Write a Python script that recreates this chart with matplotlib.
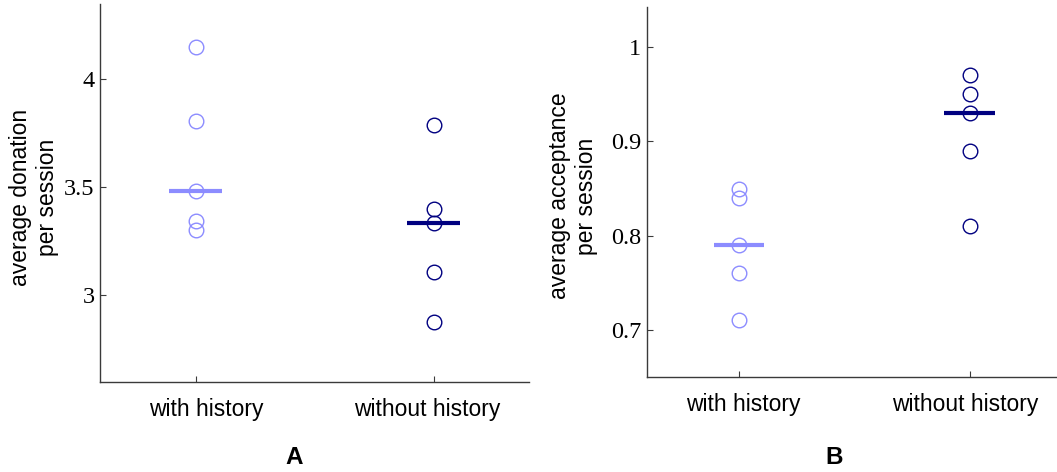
import matplotlib
matplotlib.use("Agg")
import matplotlib.pyplot as plt
import numpy as np

# Session-level results for the two conditions
conditions = ["with history", "without history"]
donation_with = [4.146, 3.805, 3.48, 3.342, 3.303]
donation_without = [3.785, 3.397, 3.334, 3.106, 2.877]
acceptance_with = [0.85, 0.84, 0.79, 0.76, 0.71]
acceptance_without = [0.97, 0.95, 0.93, 0.89, 0.81]

donation_ticks = [3, 3.5, 4]
donation_ticklabels = ["3", "3.5", "4"]
acceptance_ticks = [0.7, 0.8, 0.9, 1.0]
acceptance_ticklabels = ["0.7", "0.8", "0.9", "1"]

light = "#8c8cff"
dark = "#000080"
spine_col = "#3a3a3a"

W, H = 1057, 472
fig = plt.figure(figsize=(W / 100, H / 100), dpi=100)


def px_axes(left, top, right, bottom):
    return fig.add_axes([left / W, 1 - bottom / H, (right - left) / W, (bottom - top) / H])


def draw_panel(ax, groups, ylim, ticks, ticklabels, ylabel, label_x, label_offsets):
    colors = [light, dark]
    for i, (vals, c) in enumerate(zip(groups, colors), start=1):
        ax.plot(np.full(len(vals), i), vals, linestyle="none", marker="o",
                markersize=10.5, markerfacecolor="none", markeredgecolor=c,
                markeredgewidth=1.0, zorder=3)
        ax.hlines(np.median(vals), i - 0.11, i + 0.11, colors=c, linewidth=3.0, zorder=4)

    ax.set_xlim(0.6, 2.4)
    ax.set_ylim(*ylim)
    ax.set_xticks([1, 2])
    ax.set_xticklabels(["", ""])
    for i, (name, off) in enumerate(zip(conditions, label_offsets), start=1):
        ax.text(i + off, -0.042, name, transform=ax.get_xaxis_transform(),
                ha="center", va="top", fontsize=16.5, family="Liberation Sans")
    ax.set_yticks(ticks)
    ax.set_yticklabels(ticklabels, fontsize=17.5, family="Liberation Serif")
    ax.tick_params(direction="in", length=4, width=0.8, color=spine_col, pad=4)

    for s in ["top", "right"]:
        ax.spines[s].set_visible(False)
    for s in ["left", "bottom"]:
        ax.spines[s].set_color(spine_col)
        ax.spines[s].set_linewidth(1.0)

    ax.set_ylabel(ylabel, fontsize=16.5, family="Liberation Sans", va="center",
                  linespacing=1.25)
    ax.yaxis.set_label_coords(label_x, 0.489)


axA = px_axes(100.3, 4, 528.7, 382)
draw_panel(axA, [donation_with, donation_without], (2.6, 4.345),
           donation_ticks, donation_ticklabels,
           "average donation\nper session", -0.155, [0.046, -0.025])

axB = px_axes(647, 6.7, 1061.7, 377)
draw_panel(axB, [acceptance_with, acceptance_without], (0.65, 1.043),
           acceptance_ticks, acceptance_ticklabels,
           "average acceptance\nper session", -0.178, [0.017, -0.017])

fig.text(294 / W, 1 - 457 / H, "A", ha="center", va="center", fontsize=17.5,
         fontweight="bold", family="Liberation Sans")
fig.text(834 / W, 1 - 457 / H, "B", ha="center", va="center", fontsize=17.5,
         fontweight="bold", family="Liberation Sans")

fig.savefig("out.png", dpi=100)
